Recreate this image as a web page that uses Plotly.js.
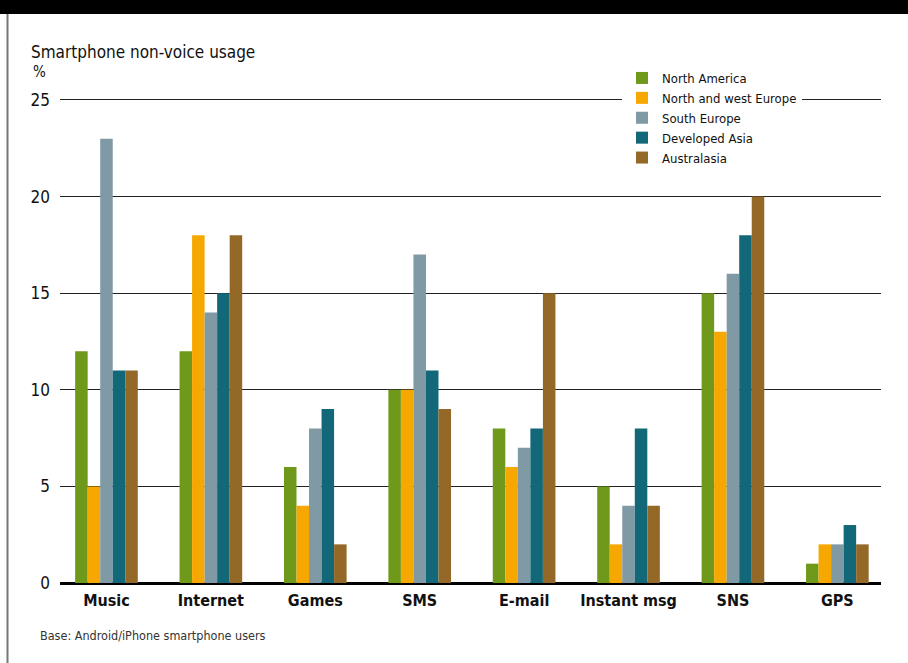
<!DOCTYPE html>
<html>
<head>
<meta charset="utf-8">
<script src="https://cdn.plot.ly/plotly-3.0.1.min.js"></script>
<style>html,body{margin:0;padding:0;background:#fff;}#chart{width:908px;height:663px;}</style>
</head>
<body>
<div id="chart"></div>
<script>
const categories = ["Music", "Internet", "Games", "SMS", "E-mail", "Instant msg", "SNS", "GPS"];
const seriesNames = ["North America", "North and west Europe", "South Europe", "Developed Asia", "Australasia"];
const northAmerica = [12, 12, 6, 10, 8, 5, 15, 1];
const northWestEurope = [5, 18, 4, 10, 6, 2, 13, 2];
const southEurope = [23, 14, 8, 17, 7, 4, 16, 2];
const developedAsia = [11, 15, 9, 11, 8, 8, 18, 3];
const australasia = [11, 18, 2, 9, 15, 4, 20, 2];
const yTicks = [0, 5, 10, 15, 20, 25];
const colors = ["#6E991B", "#F6A800", "#7F99A5", "#126878", "#946928"];

const FONT = "'DejaVu Sans Condensed', 'Liberation Sans Narrow', sans-serif";
const allSeries = [northAmerica, northWestEurope, southEurope, developedAsia, australasia];
const traces = allSeries.map((vals, i) => ({
  type: "bar",
  name: seriesNames[i],
  x: categories.map((c, j) => j),
  y: vals,
  marker: {color: colors[i], line: {width: 0}},
  hoverinfo: "y+name"
}));

const W = 908, H = 663, L = 60, R = 27, T = 94, B = 80;
const pw = W - L - R, ph = H - T - B;
const px = x => (x - L) / pw;
const py = y => (H - B - y) / ph;

const layout = {
  width: W, height: H,
  margin: {l: L, r: R, t: T, b: B, pad: 0},
  paper_bgcolor: "#fff", plot_bgcolor: "#fff",
  font: {family: FONT, color: "#111", size: 16},
  barmode: "group", bargap: 0.4, bargroupgap: 0,
  showlegend: true,
  legend: {
    x: px(622), y: py(63), xanchor: "left", yanchor: "top",
    bgcolor: "#fff", borderwidth: 0,
    font: {family: FONT, size: 13, color: "#111"},
    entrywidth: 164, entrywidthmode: "pixels",
    traceorder: "normal", tracegroupgap: 0, itemclick: false
  },
  title: {
    text: "Smartphone non-voice usage",
    x: 31 / W, xanchor: "left", xref: "container",
    y: 1 - 52 / H, yanchor: "middle", yref: "container",
    font: {family: FONT, size: 17, color: "#111"}
  },
  xaxis: {
    range: [-0.445, 7.418],
    tickmode: "array",
    tickvals: categories.map((c, j) => j),
    ticktext: categories,
    tickfont: {family: FONT, size: 16, color: "#111", weight: "bold"},
    showgrid: false, zeroline: false, showline: false, ticks: "",
    ticklabelstandoff: 6,
    fixedrange: true
  },
  yaxis: {
    range: [0, 25.31],
    tickmode: "array", tickvals: yTicks, ticktext: yTicks.map(String),
    tickfont: {family: FONT, size: 17, color: "#111"},
    showgrid: true, gridcolor: "#222", gridwidth: 1,
    zeroline: true, zerolinecolor: "#000", zerolinewidth: 3,
    showline: false, ticks: "", ticklabelstandoff: 9,
    fixedrange: true
  },
  annotations: [
    {text: "%", xref: "paper", yref: "paper", x: px(31), y: py(72), xanchor: "left", yanchor: "middle",
     showarrow: false, font: {family: FONT, size: 15, color: "#111"}},
    {text: "Base: Android/iPhone smartphone users", xref: "paper", yref: "paper", x: px(38), y: py(635),
     xanchor: "left", yanchor: "middle", showarrow: false, font: {family: FONT, size: 12.5, color: "#333"}}
  ],
  shapes: [
    {type: "rect", xref: "paper", yref: "paper", x0: px(0), x1: px(W), y0: py(0), y1: py(14),
     fillcolor: "#000", line: {width: 0}, layer: "above"},
    {type: "line", xref: "paper", yref: "paper", x0: px(7.5), x1: px(7.5), y0: py(14), y1: py(H),
     line: {color: "#777", width: 2}}
  ]
};

Plotly.newPlot("chart", traces, layout, {displayModeBar: false, staticPlot: true});
</script>
</body>
</html>
